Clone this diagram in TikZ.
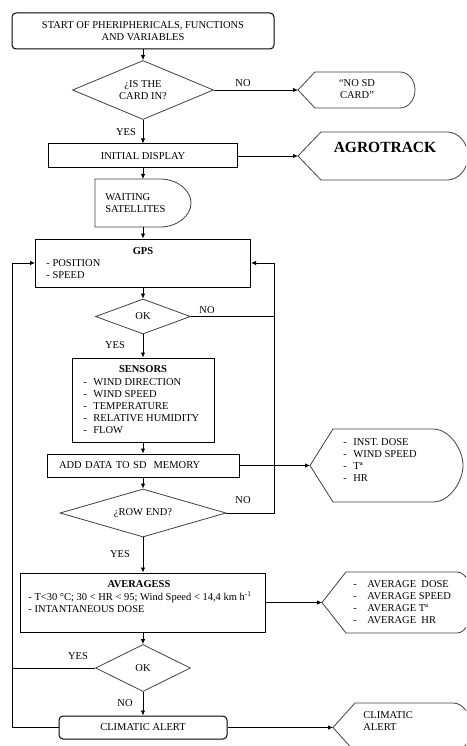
\documentclass[tikz,border=0pt]{standalone}
\usepackage{fontspec}
\setmainfont{Liberation Serif}
\usetikzlibrary{shapes.geometric,arrows.meta}
\newcommand{\strich}[2][10pt]{\makebox[#1][l]{-}#2}

\begin{document}
\begin{tikzpicture}[x=1pt, y=-1pt, >={Latex[length=5pt,width=4.5pt]}, line width=0.8pt,
  every node/.style={font=\fontsize{10.5}{12}\selectfont, inner sep=0pt},
  box/.style={draw, line width=1pt, rectangle, align=center},
  startbox/.style={box, rounded corners=4pt},
  decision/.style={draw=black!75, diamond, aspect=2.4, align=center},
  display/.style={draw=black!75},
  titel/.style={font=\fontsize{10.5}{12}\selectfont\bfseries},
  lbl/.style={align=left}]
% Rahmen
\useasboundingbox (0,0) rectangle (466,746);
\clip (0,0) rectangle (466,746);
% Hauptspalte
\node[startbox, minimum width=262pt, minimum height=36pt] (start) at (143,31) {START OF PHERIPHERICALS, FUNCTIONS\\AND VARIABLES};
\node[decision, minimum width=141pt, minimum height=59pt] (card) at (143,90) {¿IS THE\\CARD IN?};
\node[box, minimum width=189pt, minimum height=24pt] (init) at (143,156) {INITIAL DISPLAY};
% Warten (Verzoegerung)
\coordinate (waitN) at (143,179);
\coordinate (waitS) at (143,227);
\draw[display] (95,179) -- (160,179) .. controls (177,179) and (191,190) .. (191,203) .. controls (191,216) and (177,227) .. (160,227) -- (95,227) -- cycle;
\node[lbl, anchor=west] (wait) at (105,203) {WAITING\\SATELLITES};
% GPS
\node[box, minimum width=215pt, minimum height=48pt] (gps) at (143,263) {};
\node[titel] (gpst) at (143,251) {GPS};
\node[lbl, anchor=west] (gpsl) at (46,269) {- POSITION\\- SPEED};
\node[decision, minimum width=95pt, minimum height=35pt] (ok1) at (143,316.5) {OK};
% Sensoren
\node[box, minimum width=142pt, minimum height=84pt] (sens) at (143,400) {};
\node[titel] (senst) at (143,369) {SENSORS};
\node[lbl, anchor=west] (sensl) at (83,406) {\strich{WIND DIRECTION}\\\strich{WIND SPEED}\\\strich{TEMPERATURE}\\\strich{RELATIVE HUMIDITY}\\\strich{FLOW}};
\node[box, minimum width=192pt, minimum height=23pt, text width=168pt, align=left] (add) at (143,465.5) {ADD DATA TO SD~~MEMORY};
\node[decision, minimum width=166pt, minimum height=48pt] (row) at (143,513) {¿ROW END?};
% Mittelwerte
\node[box, minimum width=245pt, minimum height=59pt] (avg) at (143,602.5) {};
\node[titel] (avgt) at (139,584) {AVERAGESS};
\node[lbl, anchor=west] (avgl) at (28,602) {- T<30 °C; 30 < HR < 95; Wind Speed < 14,4 km h\textsuperscript{-1}\\- INTANTANEOUS DOSE};
\node[decision, minimum width=95pt, minimum height=47pt] (ok2) at (143,668) {OK};
\node[startbox, minimum width=168pt, minimum height=23pt] (clim) at (143,727.5) {CLIMATIC ALERT};
% Anzeigen rechts
\coordinate (nosdL) at (298,90);
\draw[display] (nosdL) -- (315,72) -- (400,72) .. controls (408.3,72) and (415,80) .. (415,90) .. controls (415,100) and (408.3,108) .. (400,108) -- (315,108) -- cycle;
\node[align=center] (nosd) at (357,89.5) {“NO SD\\CARD”};
\coordinate (agroL) at (298,156);
\draw[display] (agroL) -- (321,132) -- (447,132) .. controls (458.6,132) and (468,142.8) .. (468,156) .. controls (468,169.2) and (458.6,180) .. (447,180) -- (321,180) -- cycle;
\node[font=\fontsize{15.5}{18}\selectfont\bfseries] (agro) at (385,147) {AGROTRACK};
\coordinate (memL) at (310,465.5);
\draw[display] (memL) -- (333,429) -- (433,429) .. controls (449.5,429) and (463,449.4) .. (463,465.5) .. controls (463,481.6) and (449.5,502) .. (433,502) -- (333,502) -- cycle;
\node[lbl, anchor=west] (meml) at (343,459.7) {\strich{INST. DOSE}\\\strich{WIND SPEED}\\\strich{Tª}\\\strich{HR}};
\coordinate (avgL) at (322,602.5);
\draw[display] (avgL) -- (346,572) -- (457,572) .. controls (466,572) and (473,586) .. (473,602.5) .. controls (473,619) and (466,633) .. (457,633) -- (346,633) -- cycle;
\node[lbl, anchor=west] (avgdl) at (353,602) {\strich[14pt]{AVERAGE~~DOSE}\\\strich[14pt]{AVERAGE SPEED}\\\strich[14pt]{AVERAGE Tª}\\\strich[14pt]{AVERAGE~~HR}};
\coordinate (climL) at (333,727.5);
\draw[display] (climL) -- (355,703) -- (453,703) .. controls (463,703) and (471,714) .. (471,727.5) .. controls (471,741) and (463,752) .. (453,752) -- (355,752) -- cycle;
\node[lbl, anchor=west] (climl) at (363,721) {CLIMATIC\\ALERT};
% Beschriftungen
\node (no1) at (243,83) {NO};
\node (yes1) at (126,132) {YES};
\node (no2) at (207,310) {NO};
\node (yes2) at (115,345) {YES};
\node (no3) at (243,500) {NO};
\node (yes3) at (120,554) {YES};
\node (yes4) at (78,656) {YES};
\node (no4) at (125,703) {NO};
% Pfeile
\draw[->] (start) -- (card);
\draw[->] (card) -- (init);
\draw[->] (card) -- (nosdL);
\draw[->] (init) -- (waitN);
\draw[->] (init) -- (agroL);
\draw[->] (waitS) -- (gps);
\draw[->] (gps) -- (ok1);
\draw[->] (ok1) -- (sens);
\draw[->] (sens) -- (add);
\draw[->] (add) -- (memL);
\draw[->] (add) -- (row);
\draw[->] (row) -- (avg);
\draw[->] (avg) -- (avgL);
\draw[->] (avg) -- (ok2);
\draw[->] (ok2) -- (clim);
\draw[->] (clim) -- (climL);
% Schleifen zurueck zu GPS
\coordinate (rloop) at (274,513);
\coordinate (lloop) at (12,727.5);
\draw[->] (row) -- (rloop) |- (gps);
\draw (ok1) -- (ok1 -| rloop);
\draw[->] (clim) -- (lloop) |- (gps);
\draw (ok2) -- (ok2 -| lloop);
\end{tikzpicture}
\end{document}
